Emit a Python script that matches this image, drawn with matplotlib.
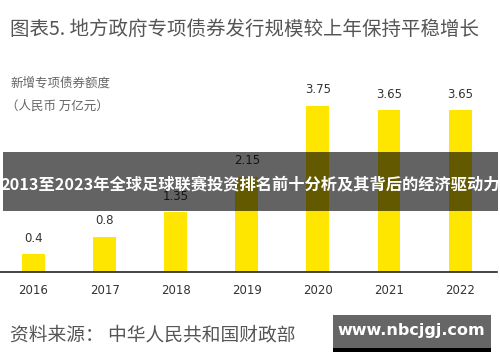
import matplotlib
matplotlib.use("Agg")
import matplotlib.pyplot as plt
from matplotlib.patches import Rectangle

plt.rcParams['font.family'] = ['Noto Sans CJK SC', 'DejaVu Sans']

years = ["2016", "2017", "2018", "2019", "2020", "2021", "2022"]
values = [0.4, 0.8, 1.35, 2.15, 3.75, 3.65, 3.65]
value_labels = ["0.4", "0.8", "1.35", "2.15", "3.75", "3.65", "3.65"]

title = "图表5. 地方政府专项债券发行规模较上年保持平稳增长"
ylabel1 = "新增专项债券额度"
ylabel2 = "（人民币 万亿元）"
source = "资料来源： 中华人民共和国财政部"
banner = "2013至2023年全球足球联赛投资排名前十分析及其背后的经济驱动力"
watermark = "www.nbcjgj.com"

W, H = 500, 362
fig = plt.figure(figsize=(W / 100, H / 100), dpi=100)
fig.patch.set_facecolor('white')

def fx(px):
    return px / W

def fy(py):
    return 1 - py / H

# axes: baseline at y=272px, top at 82px
ax = fig.add_axes([0, fy(272), fx(497), (272 - 82) / H])
x = list(range(len(years)))
bars = ax.bar(x, values, width=0.323, color='#FFE600', zorder=2)
ax.set_xlim(-0.471, 6.519)
ax.set_ylim(0, 190 / 44.3)
for xi, v, lab in zip(x, values, value_labels):
    ax.annotate(lab, (xi, v), xytext=(0, 16), textcoords='offset pixels',
                ha='center', va='center', fontsize=8.5, color='#333333',
                family=['DejaVu Sans'])
ax.set_xticks(x)
ax.set_xticklabels(years, family=['DejaVu Sans'], fontsize=8.5, color='#333333')
ax.tick_params(axis='x', length=0, pad=9)
ax.set_yticks([])
for s in ['top', 'left', 'right']:
    ax.spines[s].set_visible(False)
ax.spines['bottom'].set_color('#222222')
ax.spines['bottom'].set_linewidth(1.2)
ax.patch.set_alpha(0)

# texts
fig.text(fx(10), fy(29), title, fontsize=14, color='#555555', ha='left', va='center')
fig.text(fx(10), fy(83), ylabel1, fontsize=9, color='#666666', ha='left', va='center')
fig.text(fx(6), fy(106), ylabel2, fontsize=9, color='#666666', ha='left', va='center')
fig.text(fx(10), fy(335), source, fontsize=13.5, color='#555555', ha='left', va='center')

# banner overlay
fig.patches.append(Rectangle((fx(3), fy(211)), fx(495), (211 - 152) / H,
                             transform=fig.transFigure, facecolor='black',
                             alpha=0.61, edgecolor='none', zorder=5))
fig.text(fx(250.5), fy(184.5), banner, fontsize=11.7, fontweight='bold',
         color='white', ha='center', va='center', zorder=6)

# watermark
fig.patches.append(Rectangle((fx(333), fy(352)), fx(158), 4 / H,
                             transform=fig.transFigure, facecolor='black',
                             edgecolor='none', zorder=5))
fig.patches.append(Rectangle((fx(333), fy(348)), fx(158), (348 - 315) / H,
                             transform=fig.transFigure, facecolor='#666666',
                             edgecolor='none', zorder=5))
fig.text(fx(411), fy(331), watermark, fontsize=11.5, fontweight='bold',
         color='white', ha='center', va='center', zorder=6,
         family=['DejaVu Sans'])

fig.savefig('out.png', dpi=100)
